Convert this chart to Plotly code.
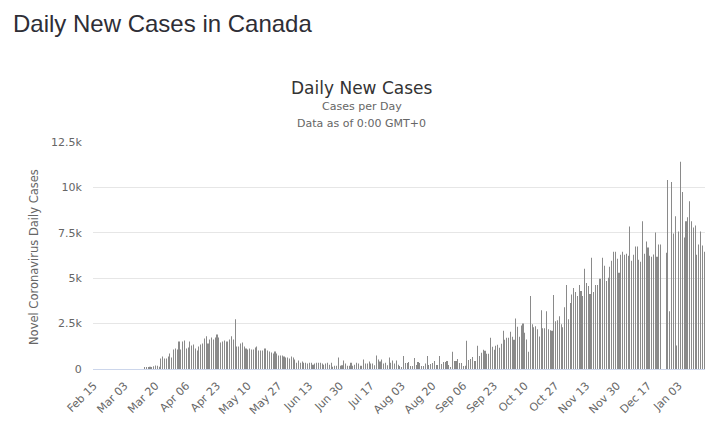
import pandas as pd
import plotly.graph_objects as go

# Daily new cases in Canada, Feb 15 2020 -> Jan 17 2021 (read from chart;
# values too small to be visible before mid-March are read as 0)
feb = [0, 0, 0, 0, 0, 0, 0, 0, 0, 0, 0, 0, 0, 0, 0]
mar = [0, 0, 0, 0, 0, 0, 0, 0, 0, 0, 0, 0, 0, 57,
       74, 74, 130, 93, 150, 190, 185, 130,
       574, 685, 574, 574, 685, 850, 630, 1075, 1130]
apr = [1075, 1520, 1075, 1520, 1575,
       1130, 1185, 1520, 1300, 1350, 1130, 1020, 1240, 1350, 1400, 1685, 1800, 1400, 1630, 1740,
       1630, 1740, 1900, 1740, 1460, 1520, 1575, 1520, 1520, 1630]
may = [1800, 1630, 2740,
       1240, 1240, 1400, 1460, 1240, 1130, 1075, 1130, 1075, 1075,
       1185, 1240, 1020, 1020, 1020, 1130, 1130, 1020, 963, 907,
       850, 963, 850, 740, 740, 740, 685, 630]
jun = [630, 574, 685, 630, 520,
       350, 463, 350, 407, 350, 350, 296, 350, 350, 240,
       296, 350, 350, 350, 296, 240, 296, 350, 240, 350,
       130, 185, 185, 630, 185]
jul = [200, 463, 296, 185, 185, 350, 185, 240, 350, 296,
       185, 185, 520, 296, 296, 407, 296, 296, 200, 740,
       520, 407, 520, 296, 350, 200, 630, 350, 463, 296, 463]
aug = [240, 170, 110, 720, 333, 333, 390, 170, 170, 610,
       222, 390, 333, 170, 170, 300, 720, 222, 278, 333,
       444, 222, 222, 720, 278, 390, 390, 444, 222, 110, 944]
sep = [444, 444, 555, 333, 333, 170, 185, 1555, 500, 555,
       666, 444, 444, 1278, 720, 888, 1055, 1000, 833, 833,
       1722, 1222, 1055, 1278, 1333, 1166, 1389, 2111, 1611, 1722]
oct_ = [1722, 2055, 1778, 1611, 2778, 2333, 1778, 2389, 2500, 2000,
        1630, 944, 4018, 2463, 2296, 2352, 2185, 1796, 3240, 2240,
        2240, 3185, 2185, 2130, 2111, 4074, 2630, 2685, 2907, 2463, 2296]
nov = [3407, 4630, 2740, 3630, 4100, 4463, 4240, 4018, 4630, 4296,
       4018, 5518, 4740, 4574, 4130, 6130, 4240, 4630, 4630, 4963,
       4963, 6130, 5685, 4852, 5018, 5630, 5963, 6463, 6463, 6074]
dec = [5296, 6296, 6463, 6296, 6352, 6240, 7852, 5963, 6296, 6740,
       6740, 6018, 5907, 8130, 6352, 7018, 6685, 6240, 6185, 6300,
       7518, 6185, 6852, 6852, 0, 0, 6407, 10407, 3185, 10296, 7463]
jan = [8407, 1296, 7574, 11407, 9740, 7240, 8130, 8352, 9240, 8130,
       7796, 7907, 6296, 6852, 7574, 6796, 6463]

cases = feb + mar + apr + may + jun + jul + aug + sep + oct_ + nov + dec + jan
dates = pd.date_range("2020-02-15", periods=len(cases), freq="D")
categories = [d.strftime("%b %d") for d in dates]
tick_labels = categories[::17]

y_ticks = [0, 2500, 5000, 7500, 10000, 12500]
y_tick_text = ["0", "2.5k", "5k", "7.5k", "10k", "12.5k"]

FONT = "DejaVu Sans"

fig = go.Figure()
fig.add_trace(go.Bar(x=categories, y=cases, marker=dict(color="#8a8a8a", line=dict(width=0)),
                     hoverinfo="x+y"))

# plot area in pixels: x 93..705, y 142..369
L, R, T, B = 93, 705, 142, 369
def px(x):
    return (x - L) / (R - L)
def py(y):
    return (B - y) / (B - T)

fig.update_layout(
    width=718, height=432,
    margin=dict(l=L, r=718 - R, t=T, b=432 - B, pad=0),
    paper_bgcolor="white", plot_bgcolor="white",
    bargap=0.95,
    showlegend=False,
    font=dict(family=FONT, color="#666666"),
    xaxis=dict(type="category", categoryorder="array", categoryarray=categories,
               range=[-0.5, len(cases) - 0.5],
               tickmode="array", tickvals=tick_labels, ticktext=tick_labels,
               tickangle=-45, tickfont=dict(size=11, color="#666666", family=FONT),
               showgrid=False, showline=True, linecolor="#ccd6eb", linewidth=1,
               ticks="outside", ticklen=5, tickcolor="rgba(0,0,0,0)", zeroline=False),
    yaxis=dict(range=[0, 12500], tickmode="array", tickvals=y_ticks, ticktext=y_tick_text,
               tickfont=dict(size=11, color="#666666", family=FONT),
               gridcolor="#e6e6e6", gridwidth=1, zeroline=False, showline=False,
               ticks="outside", ticklen=8, tickcolor="rgba(0,0,0,0)"),
    annotations=[
        dict(text="Daily New Cases in Canada", xref="paper", yref="paper",
             x=px(11), y=py(24), xanchor="left", yanchor="middle", showarrow=False,
             font=dict(family="Liberation Sans", size=24, color="#2e2e36")),
        dict(text="Daily New Cases", xref="paper", yref="paper",
             x=px(361.5), y=py(88), xanchor="center", yanchor="middle", showarrow=False,
             font=dict(family=FONT, size=17, color="#333333")),
        dict(text="Cases per Day", xref="paper", yref="paper",
             x=px(361.5), y=py(107), xanchor="center", yanchor="middle", showarrow=False,
             font=dict(family=FONT, size=11, color="#666666")),
        dict(text="Data as of 0:00 GMT+0", xref="paper", yref="paper",
             x=px(361.5), y=py(123), xanchor="center", yanchor="middle", showarrow=False,
             font=dict(family=FONT, size=11, color="#666666")),
        dict(text="Novel Coronavirus Daily Cases", xref="paper", yref="paper",
             x=px(34), y=py(257), xanchor="center", yanchor="middle", showarrow=False,
             textangle=-90, font=dict(family=FONT, size=11.5, color="#666666")),
    ],
)

fig.write_html("out.html", config={"displayModeBar": False},
               post_script="document.body.style.margin='0';")
